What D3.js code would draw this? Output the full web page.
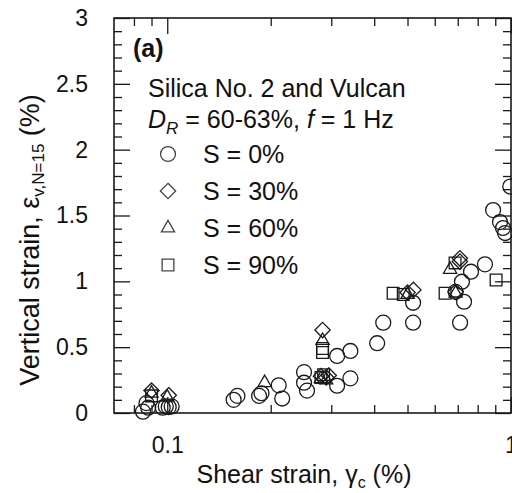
<!DOCTYPE html>
<html><head><meta charset="utf-8">
<script src="https://cdn.jsdelivr.net/npm/d3@7"></script>
<style>
body{margin:0;background:#fff;}
text{font-family:"Liberation Sans",Arial,sans-serif;fill:#111;}
</style></head>
<body><svg id="c" width="512" height="493"></svg>
<script>
// ---- data ----
const xMajorTicks = [0.1, 1];
const xMinorTicks = [0.08, 0.09, 0.2, 0.3, 0.4, 0.5, 0.6, 0.7, 0.8, 0.9];
const yMajorTicks = [0, 0.5, 1, 1.5, 2, 2.5, 3];
const yMinorTicks = [0.1,0.2,0.3,0.4,0.6,0.7,0.8,0.9,1.1,1.2,1.3,1.4,1.6,1.7,1.8,1.9,2.1,2.2,2.3,2.4,2.6,2.7,2.8,2.9];
const seriesNames = ["S = 0%", "S = 30%", "S = 60%", "S = 90%"];
const s0 = [[0.085,0.01],[0.088,0.04],[0.087,0.075],[0.097,0.04],[0.099,0.05],[0.101,0.045],[0.103,0.05],
  [0.156,0.10],[0.160,0.13],[0.185,0.13],[0.188,0.15],[0.211,0.21],[0.216,0.11],
  [0.25,0.31],[0.25,0.23],[0.255,0.17],[0.312,0.207],[0.341,0.263],[0.312,0.433],[0.341,0.471],
  [0.408,0.53],[0.425,0.686],[0.519,0.837],[0.519,0.686],
  [0.69,0.92],[0.73,0.845],[0.711,0.686],[0.72,0.997],[0.765,1.073],[0.84,1.129],
  [0.887,1.541],[0.929,1.45],[0.948,1.405],[0.961,1.367],[0.995,1.72]];
const s30 = [[0.090,0.17],[0.101,0.135],[0.28,0.28],[0.29,0.27],[0.295,0.285],[0.283,0.63],
  [0.50,0.915],[0.52,0.935],[0.69,0.92],[0.71,1.175],[0.71,1.15]];
const s60 = [[0.090,0.15],[0.100,0.12],[0.192,0.23],[0.28,0.26],[0.29,0.25],[0.283,0.55],
  [0.50,0.90],[0.665,1.09],[0.69,0.91]];
const s90 = [[0.090,0.13],[0.28,0.27],[0.285,0.29],[0.283,0.49],[0.283,0.46],[0.454,0.91],
  [0.486,0.90],[0.643,0.91],[0.6875,1.14],[0.905,1.01]];

// ---- layout ----
const L=114, R=511, T=18, B=413;
const svg = d3.select("#c");
const x = d3.scaleLog().domain([0.07,1]).range([L,R]);
const y = d3.scaleLinear().domain([0,3]).range([B,T]);
const ink="#1a1a1a";

function styleAxis(g){
  g.select(".domain").remove();
  g.selectAll(".tick line").attr("stroke",ink).attr("stroke-width",1.3);
  g.selectAll("text").style("font-size","23px").attr("fill",ink);
}
// bottom
svg.append("g").attr("transform",`translate(0,${B})`)
  .call(d3.axisBottom(x).tickValues(xMajorTicks).tickSize(-16).tickSizeOuter(0).tickPadding(24).tickFormat(d3.format("")))
  .call(styleAxis);
svg.append("g").attr("transform",`translate(0,${B})`)
  .call(d3.axisBottom(x).tickValues(xMinorTicks).tickSize(-8).tickSizeOuter(0).tickFormat(""))
  .call(styleAxis);
// top
svg.append("g").attr("transform",`translate(0,${T})`)
  .call(d3.axisTop(x).tickValues(xMajorTicks).tickSize(-16).tickSizeOuter(0).tickFormat(""))
  .call(styleAxis);
svg.append("g").attr("transform",`translate(0,${T})`)
  .call(d3.axisTop(x).tickValues(xMinorTicks).tickSize(-8).tickSizeOuter(0).tickFormat(""))
  .call(styleAxis);
// left
svg.append("g").attr("transform",`translate(${L},0)`)
  .call(d3.axisLeft(y).tickValues(yMajorTicks).tickSize(-16).tickSizeOuter(0).tickPadding(26).tickFormat(d3.format("")))
  .call(styleAxis);
svg.append("g").attr("transform",`translate(${L},0)`)
  .call(d3.axisLeft(y).tickValues(yMinorTicks).tickSize(-8).tickSizeOuter(0).tickFormat(""))
  .call(styleAxis);
// right
svg.append("g").attr("transform",`translate(${R},0)`)
  .call(d3.axisRight(y).tickValues(yMajorTicks).tickSize(-16).tickSizeOuter(0).tickFormat(""))
  .call(styleAxis);
svg.append("g").attr("transform",`translate(${R},0)`)
  .call(d3.axisRight(y).tickValues(yMinorTicks).tickSize(-8).tickSizeOuter(0).tickFormat(""))
  .call(styleAxis);

svg.append("rect").attr("x",L).attr("y",T).attr("width",R-L).attr("height",B-T)
  .attr("fill","none").attr("stroke",ink).attr("stroke-width",1.6);

// markers
const shapes = [d3.symbolCircle, d3.symbolDiamond2, d3.symbolTriangle2, d3.symbolSquare2];
const sizes = [175, 150, 125, 175];
const sets = [s0, s30, s60, s90];
const sym = (i)=>d3.symbol().type(shapes[i]).size(sizes[i]);
sets.forEach((data,i)=>{
  svg.append("g").selectAll("path").data(data).join("path")
    .attr("transform",d=>`translate(${x(d[0])},${y(d[1])})`)
    .attr("d",sym(i)())
    .attr("fill","none").attr("stroke",ink).attr("stroke-width",1.3);
});

// annotations
svg.append("text").attr("x",133).attr("y",57).style("font-size","25px").style("font-weight","bold").text("(a)");
svg.append("text").attr("x",148).attr("y",97).style("font-size","25px").text("Silica No. 2 and Vulcan");
const t2 = svg.append("text").attr("x",148).attr("y",128).style("font-size","25px");
t2.append("tspan").style("font-style","italic").text("D");
t2.append("tspan").style("font-style","italic").style("font-size","17px").attr("dy",6).text("R");
t2.append("tspan").attr("dy",-6).text(" = 60-63%, ");
t2.append("tspan").style("font-style","italic").text("f");
t2.append("tspan").text(" = 1 Hz");

// legend
const legY = [154, 191, 228, 265];
seriesNames.forEach((n,i)=>{
  svg.append("path").attr("transform",`translate(168,${legY[i]})`).attr("d",sym(i)())
    .attr("fill","none").attr("stroke","#444").attr("stroke-width",1.3);
  svg.append("text").attr("x",203).attr("y",legY[i]+9).style("font-size","25px").text(n);
});

// axis titles
const xt = svg.append("text").attr("x",304).attr("y",483).attr("text-anchor","middle").style("font-size","25px");
xt.append("tspan").text("Shear strain, γ");
xt.append("tspan").style("font-size","16px").attr("dy",5).text("c");
xt.append("tspan").attr("dy",-5).text(" (%)");

const yt = svg.append("text").attr("transform","translate(39,240) rotate(-90)").attr("text-anchor","middle").style("font-size","27px");
yt.append("tspan").text("Vertical strain, ε");
yt.append("tspan").style("font-size","17px").attr("dy",5).text("v,N=15");
yt.append("tspan").attr("dy",-5).text(" (%)");
</script></body></html>
